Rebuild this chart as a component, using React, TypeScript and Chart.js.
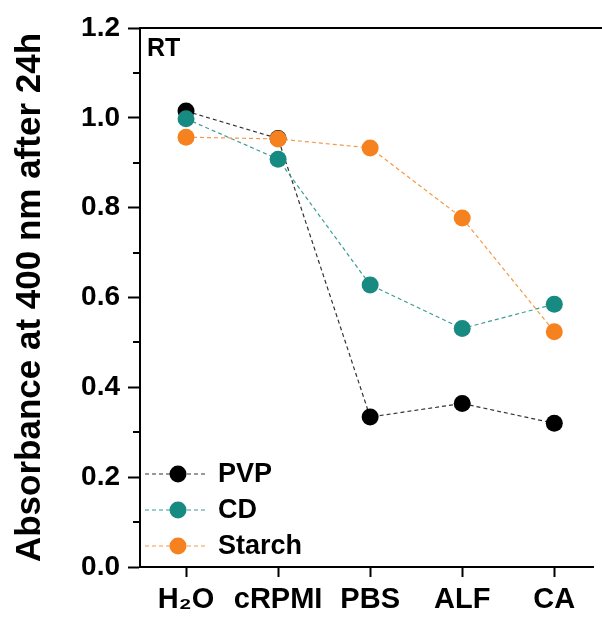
import React, { useEffect, useRef } from 'react';
import { Chart, registerables } from 'chart.js';

Chart.register(...registerables);

const categories = ['H₂O', 'cRPMI', 'PBS', 'ALF', 'CA'];
const seriesNames = ['PVP', 'CD', 'Starch'];
const pvpValues = [1.015, 0.954, 0.334, 0.364, 0.32];
const cdValues = [0.998, 0.908, 0.628, 0.531, 0.585];
const starchValues = [0.957, 0.953, 0.933, 0.777, 0.524];
const yMajorTicks = [0, 0.2, 0.4, 0.6, 0.8, 1.0, 1.2];
const yMinorTicks = [0.1, 0.3, 0.5, 0.7, 0.9, 1.1];
const yTitle = 'Absorbance at 400 nm after 24h';
const panelLabel = 'RT';

const pointColors = ['#000000', '#178a82', '#f6821f'];
const lineColors = ['#333333', '#3d9c95', '#f49a4c'];
const FONT = "'Liberation Sans', Arial, Helvetica, sans-serif";

export default function App() {
  const ref = useRef<HTMLCanvasElement | null>(null);

  useEffect(() => {
    document.body.style.margin = '0';
    document.body.style.overflow = 'hidden';
    const canvas = ref.current;
    if (!canvas) return;
    const allSeries = [pvpValues, cdValues, starchValues];

    const decorPlugin = {
      id: 'decor',
      afterDraw(chart: any) {
        const { ctx, chartArea } = chart;
        const yScale = chart.scales.y;
        ctx.save();
        ctx.strokeStyle = '#000';
        ctx.lineWidth = 2;
        ctx.beginPath();
        ctx.moveTo(chartArea.left - 1, chartArea.top);
        ctx.lineTo(chart.width, chartArea.top);
        ctx.stroke();
        yMinorTicks.forEach((v) => {
          const y = Math.round(yScale.getPixelForValue(v));
          ctx.beginPath();
          ctx.moveTo(chartArea.left - 7, y);
          ctx.lineTo(chartArea.left, y);
          ctx.stroke();
        });
        ctx.fillStyle = '#000';
        ctx.font = `bold 25px ${FONT}`;
        ctx.textAlign = 'left';
        ctx.textBaseline = 'middle';
        ctx.fillText(panelLabel, chartArea.left + 7, chartArea.top + 21);
        const rows = [474, 510, 546];
        seriesNames.forEach((name, i) => {
          const y = rows[i];
          ctx.strokeStyle = lineColors[i];
          ctx.lineWidth = 1.2;
          ctx.setLineDash([4, 3]);
          ctx.beginPath();
          ctx.moveTo(chartArea.left + 5, y);
          ctx.lineTo(chartArea.left + 68, y);
          ctx.stroke();
          ctx.setLineDash([]);
          ctx.fillStyle = pointColors[i];
          ctx.beginPath();
          ctx.arc(chartArea.left + 38, y, 8.5, 0, Math.PI * 2);
          ctx.fill();
          ctx.fillStyle = '#000';
          ctx.font = `bold 27px ${FONT}`;
          ctx.textAlign = 'left';
          ctx.textBaseline = 'middle';
          ctx.fillText(name, chartArea.left + 78, y + 1);
        });
        ctx.restore();
      },
    };

    const chart = new Chart(canvas, {
      type: 'line',
      data: {
        datasets: seriesNames.map((name, i) => ({
          label: name,
          data: allSeries[i].map((y, x) => ({ x, y })),
          borderColor: lineColors[i],
          backgroundColor: pointColors[i],
          pointBackgroundColor: pointColors[i],
          pointBorderColor: pointColors[i],
          pointBorderWidth: 0,
          pointRadius: 8.5,
          borderWidth: 1.2,
          borderDash: [4, 3],
          fill: false,
          tension: 0,
          order: 3 - i,
        })),
      },
      options: {
        responsive: false,
        animation: false,
        layout: { padding: { top: 28, right: 0, left: 0, bottom: 0 } },
        plugins: { legend: { display: false }, tooltip: { enabled: false } },
        scales: {
          x: {
            type: 'linear',
            min: -0.5,
            max: 4.426,
            afterBuildTicks: (scale: any) => {
              scale.ticks = categories.map((_, i) => ({ value: i }));
            },
            afterFit: (scale: any) => {
              scale.height = 51;
              scale.paddingLeft = 0;
              scale.paddingRight = 0;
            },
            grid: { drawOnChartArea: false, drawTicks: true, tickLength: 10, tickWidth: 2, tickColor: '#000' },
            border: { display: true, color: '#000', width: 2 },
            ticks: {
              autoSkip: false,
              maxRotation: 0,
              padding: 6,
              color: '#000',
              font: { family: FONT, size: 29, weight: 'bold' },
              callback: (v: any) => categories[Math.round(Number(v))] ?? '',
            },
          },
          y: {
            type: 'linear',
            min: 0,
            max: 1.2,
            afterBuildTicks: (scale: any) => {
              scale.ticks = yMajorTicks.map((v) => ({ value: v }));
            },
            afterFit: (scale: any) => {
              scale.width = 140;
            },
            grid: { drawOnChartArea: false, drawTicks: true, tickLength: 12, tickWidth: 2, tickColor: '#000' },
            border: { display: true, color: '#000', width: 2 },
            ticks: {
              padding: 8,
              color: '#000',
              font: { family: FONT, size: 28, weight: 'bold' },
              callback: (v: any) => Number(v).toFixed(1),
            },
            title: {
              display: true,
              text: yTitle,
              color: '#000',
              font: { family: FONT, size: 35, weight: 'bold' },
              padding: { top: 9, bottom: 0 },
            },
          },
        },
      },
      plugins: [decorPlugin],
    });
    return () => chart.destroy();
  }, []);

  return (
    <div style={{ width: 602, height: 618 }}>
      <canvas ref={ref} width={602} height={618} />
    </div>
  );
}
